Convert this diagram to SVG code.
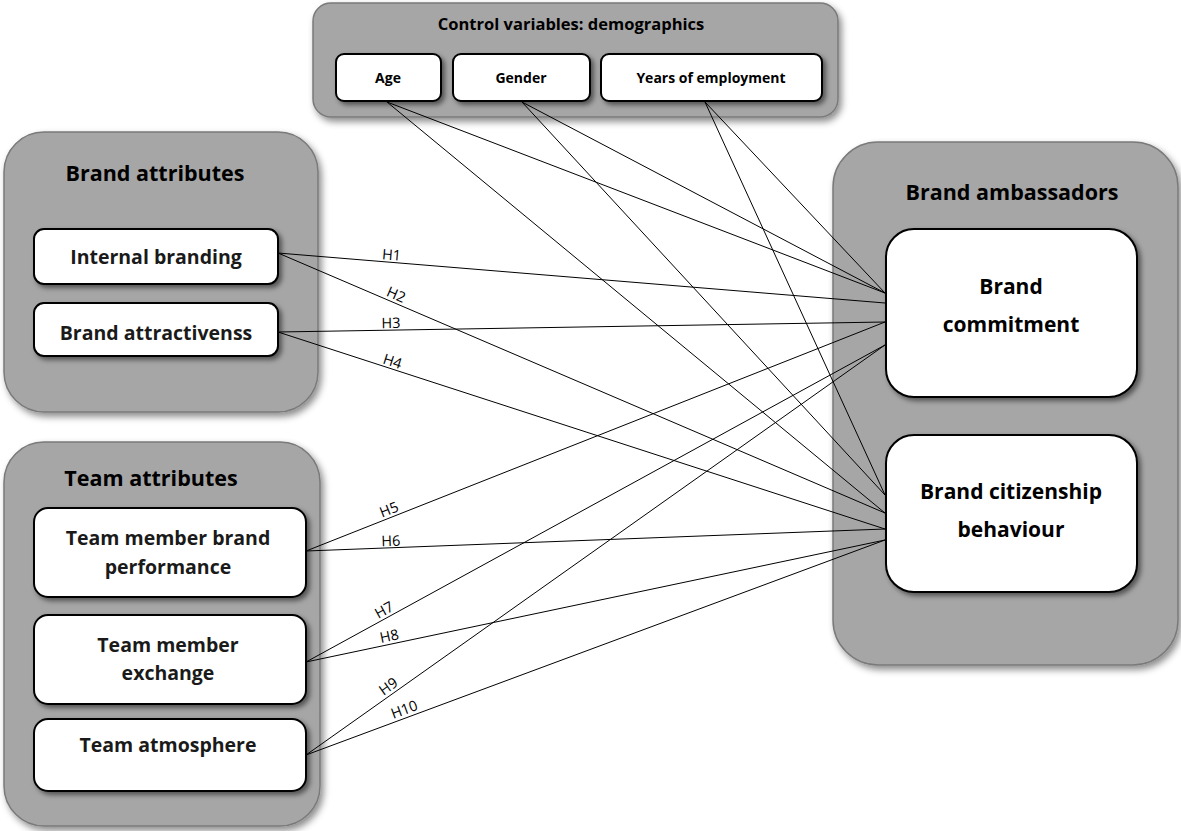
<svg xmlns="http://www.w3.org/2000/svg" width="1181" height="831" viewBox="0 0 1181 831">
<defs>
<filter id="sh" x="-10%" y="-10%" width="130%" height="130%">
<feDropShadow dx="3" dy="4" stdDeviation="3.5" flood-color="#000" flood-opacity="0.45"/>
</filter>
<filter id="sh2" x="-10%" y="-20%" width="130%" height="150%">
<feDropShadow dx="3" dy="3" stdDeviation="2.5" flood-color="#000" flood-opacity="0.5"/>
</filter>
</defs>
<style>
.grp{fill:#a6a6a6;stroke:#7a7a7a;stroke-width:1.5;filter:url(#sh)}
.box{fill:#fff;stroke:#000;stroke-width:2;filter:url(#sh2)}
.t{font-family:"Open Sans",Lato,sans-serif;font-weight:bold;fill:#000;text-anchor:middle}
.tt{font-size:21.5px}
.th{font-size:16.5px}
.ts{font-size:14px}
.tb{font-size:19.5px;fill:#1a1a1a}
.tl{font-size:21px}
.lab{font-family:"Open Sans",Lato,sans-serif;font-size:14.5px;fill:#000;text-anchor:middle}
.c line{stroke:#000;stroke-width:1}
</style>

<g id="control-variables">
<rect class="grp" x="313" y="3" width="525" height="114" rx="18"/>
<text class="t th" x="571" y="30">Control variables: demographics</text>
</g>
<g id="age"><rect class="box" x="336" y="54" width="105" height="47" rx="8"/><text class="t ts" x="388" y="83">Age</text></g>
<g id="gender"><rect class="box" x="453" y="54" width="137" height="47" rx="8"/><text class="t ts" x="521" y="83">Gender</text></g>
<g id="years"><rect class="box" x="601" y="54" width="221" height="47" rx="8"/><text class="t ts" x="711" y="83">Years of employment</text></g>

<g id="brand-attributes">
<rect class="grp" x="4" y="132" width="314" height="280" rx="40"/>
<text class="t tt" x="155" y="181">Brand attributes</text>
</g>
<g id="internal-branding"><rect class="box" x="34" y="229" width="244" height="55" rx="10"/><text class="t tb" x="156" y="264">Internal branding</text></g>
<g id="brand-attractiveness"><rect class="box" x="34" y="303" width="244" height="53" rx="10"/><text class="t tb" x="156" y="340">Brand attractivenss</text></g>

<g id="team-attributes">
<rect class="grp" x="4" y="442" width="316" height="384" rx="40"/>
<text class="t tt" x="151" y="486">Team attributes</text>
</g>
<g id="team-member-brand-performance"><rect class="box" x="34" y="508" width="272" height="89" rx="14"/><text class="t tb" x="168" y="545">Team member brand</text><text class="t tb" x="168" y="574">performance</text></g>
<g id="team-member-exchange"><rect class="box" x="34" y="615" width="272" height="89" rx="14"/><text class="t tb" x="168" y="652">Team member</text><text class="t tb" x="168" y="680">exchange</text></g>
<g id="team-atmosphere"><rect class="box" x="34" y="719" width="272" height="72" rx="14"/><text class="t tb" x="168" y="752">Team atmosphere</text></g>

<g id="brand-ambassadors">
<rect class="grp" x="833" y="142" width="345" height="523" rx="45"/>
<text class="t tt" x="1012" y="200">Brand ambassadors</text>
</g>
<g id="brand-commitment"><rect class="box" x="886" y="229" width="251" height="168" rx="28"/><text class="t tl" x="1011" y="294">Brand</text><text class="t tl" x="1011" y="332">commitment</text></g>
<g id="brand-citizenship-behaviour"><rect class="box" x="886" y="435" width="251" height="157" rx="28"/><text class="t tl" x="1011" y="499">Brand citizenship</text><text class="t tl" x="1011" y="537">behaviour</text></g>

<g id="connectors" class="c">
<line x1="387" y1="102" x2="885" y2="293"/>
<line x1="387" y1="102" x2="885" y2="513"/>
<line x1="522" y1="102" x2="885" y2="293"/>
<line x1="522" y1="102" x2="885" y2="495"/>
<line x1="705" y1="102" x2="885" y2="293"/>
<line x1="705" y1="102" x2="885" y2="495"/>
<line x1="278" y1="253" x2="885" y2="303"/>
<line x1="278" y1="253" x2="885" y2="513"/>
<line x1="278" y1="332" x2="885" y2="322"/>
<line x1="278" y1="332" x2="885" y2="529"/>
<line x1="306" y1="551" x2="885" y2="322"/>
<line x1="306" y1="551" x2="885" y2="529"/>
<line x1="306" y1="662" x2="885" y2="345"/>
<line x1="306" y1="662" x2="885" y2="540"/>
<line x1="306" y1="755" x2="885" y2="345"/>
<line x1="306" y1="755" x2="885" y2="540"/>
</g>

<g id="labels">
<text class="lab" transform="translate(391,262) rotate(4.7)" y="-2">H1</text>
<text class="lab" transform="translate(393,302) rotate(23.2)" y="-3">H2</text>
<text class="lab" transform="translate(391,330) rotate(-0.9)" y="-2">H3</text>
<text class="lab" transform="translate(390,369) rotate(17.9)" y="-3">H4</text>
<text class="lab" transform="translate(392,517) rotate(-21.6)" y="-3">H5</text>
<text class="lab" transform="translate(391,548) rotate(-2.2)" y="-2">H6</text>
<text class="lab" transform="translate(388,617) rotate(-28.7)" y="-3">H7</text>
<text class="lab" transform="translate(391,644) rotate(-11.9)" y="-3">H8</text>
<text class="lab" transform="translate(393,693) rotate(-35.3)" y="-3">H9</text>
<text class="lab" transform="translate(407,717) rotate(-20.4)" y="-3">H10</text>
</g>
</svg>
